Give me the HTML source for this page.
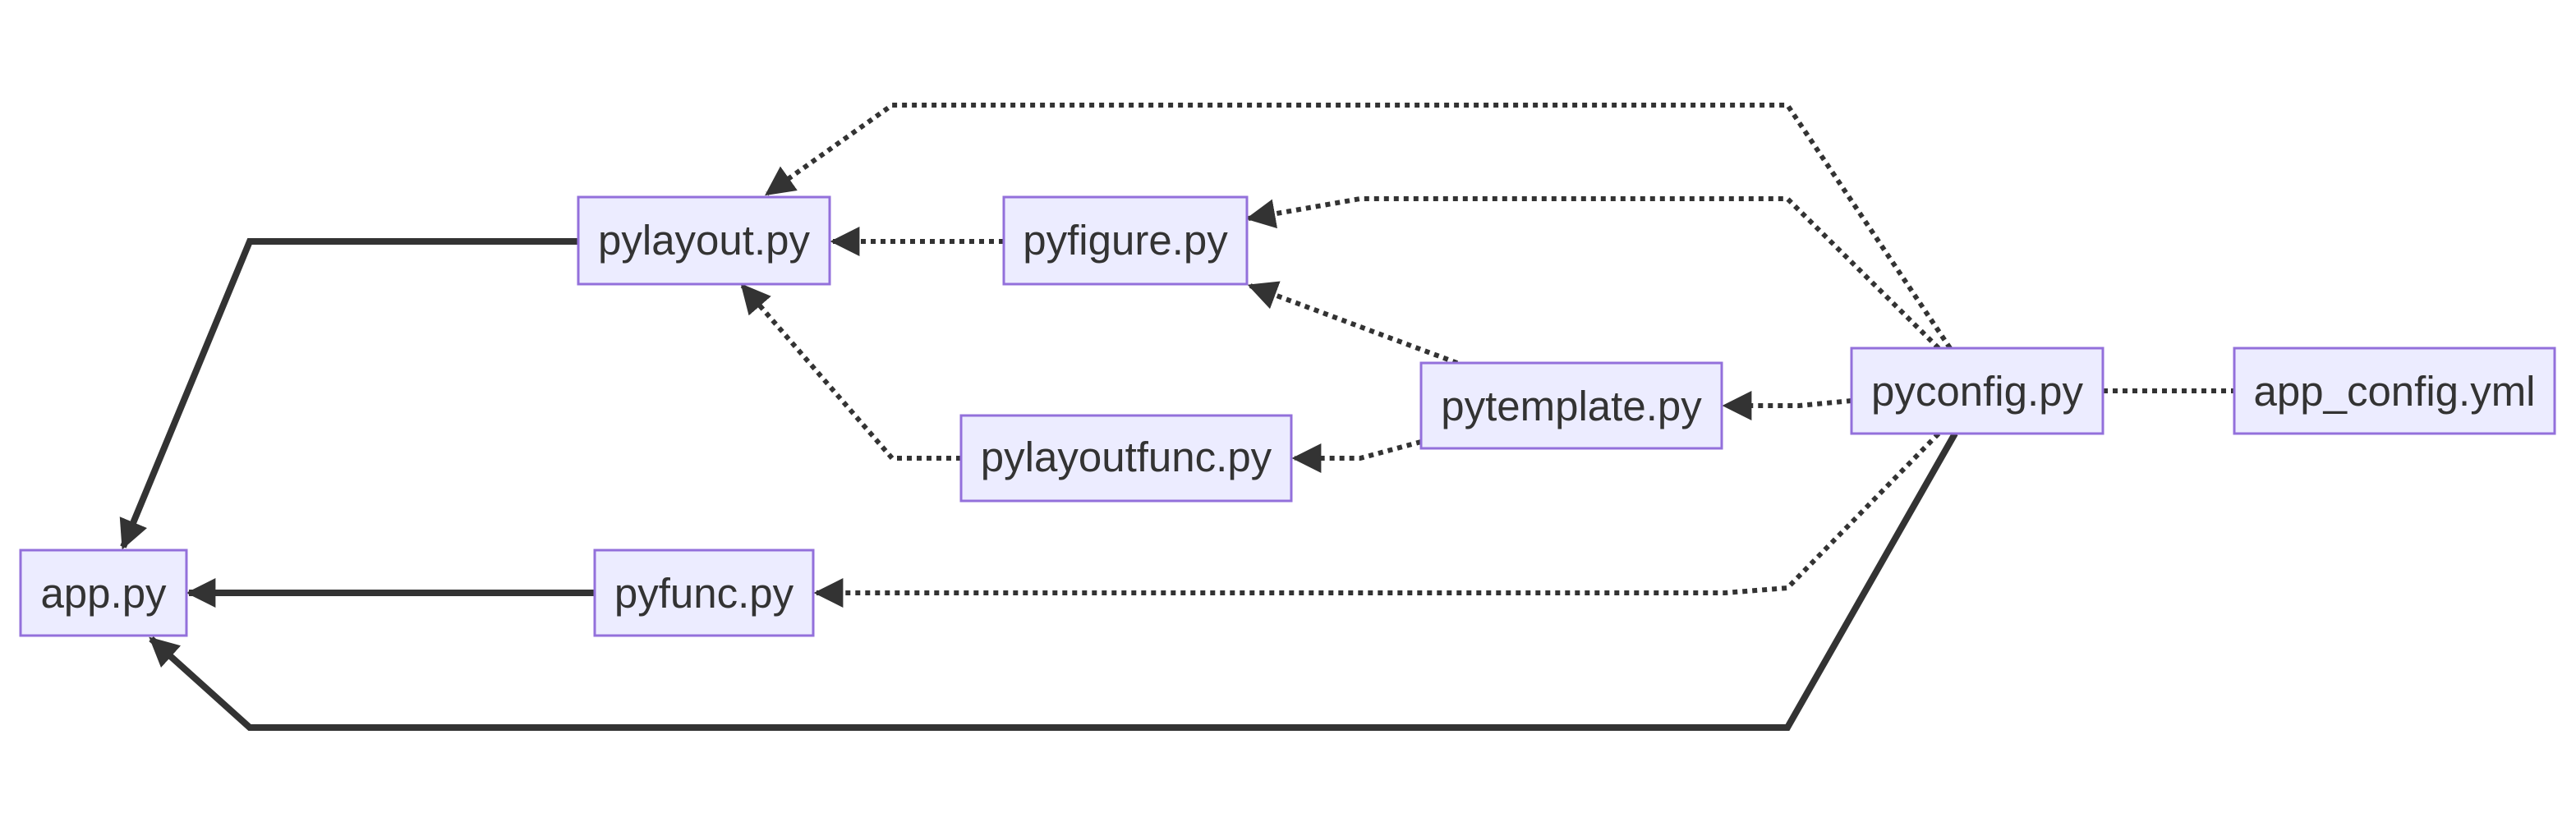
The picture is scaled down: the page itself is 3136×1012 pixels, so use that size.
<!DOCTYPE html>
<html><head><meta charset="utf-8"><style>html,body{margin:0;padding:0;background:#fff}svg{display:block}</style></head>
<body>
<svg width="3136" height="1012" viewBox="0 0 1568 506" xmlns="http://www.w3.org/2000/svg">
<defs>
<marker id="a" viewBox="0 0 10 10" refX="9" refY="5" markerUnits="userSpaceOnUse" markerWidth="18" markerHeight="18" orient="auto"><path d="M0,0L10,5L0,10z" fill="#333"/></marker>
</defs>
<g fill="none" stroke="#333">
<g stroke-width="4">
<polyline points="352,147 152,147 75,333" marker-end="url(#a)"/>
<polyline points="362,361 115,361" marker-end="url(#a)"/>
<polyline points="1190,264 1088,443 152,443 92,389" marker-end="url(#a)"/>
</g>
<g stroke-width="3" stroke-dasharray="3,3">
<polyline points="1187,212 1088,64 543,64 467,118" marker-end="url(#a)"/>
<polyline points="1180,212 1088,121 828,121 760,133" marker-end="url(#a)"/>
<polyline points="611,147 507,147" marker-end="url(#a)"/>
<polyline points="887,221 761,174" marker-end="url(#a)"/>
<polyline points="585,279 543,279 452,174" marker-end="url(#a)"/>
<polyline points="865,269 828,279 788,279" marker-end="url(#a)"/>
<polyline points="1127,244 1095,247 1050,247" marker-end="url(#a)"/>
<polyline points="1180,264 1088,358 1050,361 497,361" marker-end="url(#a)"/>
<polyline points="1280,238 1360,238"/>
</g>
</g>
<g fill="#ECECFF" stroke="#9370DB" stroke-width="1.5">
<rect x="12.5" y="335" width="101" height="52"/>
<rect x="352" y="120" width="153" height="53"/>
<rect x="611" y="120" width="148" height="53"/>
<rect x="585" y="253" width="201" height="52"/>
<rect x="362" y="335" width="133" height="52"/>
<rect x="865" y="221" width="183" height="52"/>
<rect x="1127" y="212" width="153" height="52"/>
<rect x="1360" y="212" width="195" height="52"/>
</g>
<g font-family="Liberation Sans, sans-serif" font-size="25.5" fill="#333" text-anchor="middle">
<text x="63" y="370">app.py</text>
<text x="428.5" y="155">pylayout.py</text>
<text x="685" y="155">pyfigure.py</text>
<text x="685.5" y="287">pylayoutfunc.py</text>
<text x="428.5" y="370">pyfunc.py</text>
<text x="956.5" y="256">pytemplate.py</text>
<text x="1203.5" y="247">pyconfig.py</text>
<text x="1457.5" y="247">app_config.yml</text>
</g>
</svg>
</body></html>
